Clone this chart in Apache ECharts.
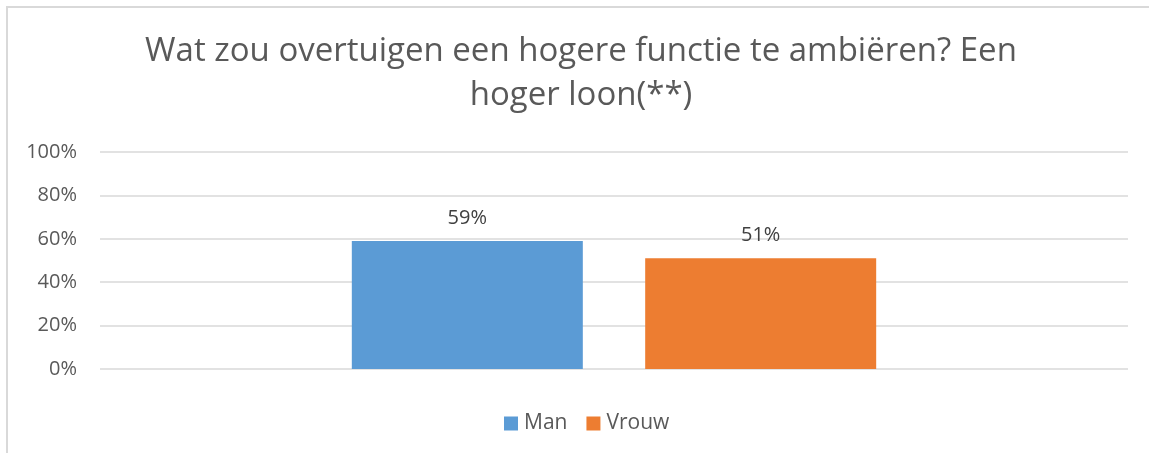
<!DOCTYPE html>
<html>
<head>
<meta charset="utf-8">
<script src="https://cdn.jsdelivr.net/npm/echarts@6/dist/echarts.min.js"></script>
<style>
  html, body { margin: 0; padding: 0; background: #fff; }
  #chart { width: 1149px; height: 453px; }
</style>
</head>
<body>
<div id="chart"></div>
<script>
const titleText = 'Wat zou overtuigen een hogere functie te ambiëren? Een\nhoger loon(**)'
const categories = ['']
const seriesNames = ['Man', 'Vrouw']
const manValues = [59]
const vrouwValues = [51]
const yTicks = { min: 0, max: 100, interval: 20 }

const fontFamily = '"Open Sans", "Noto Sans", sans-serif'
const textColor = '#595959'

const chart = echarts.init(document.getElementById('chart'), null, { renderer: 'canvas' })

const labelStyle = {
  show: true,
  position: 'top',
  distance: 13,
  formatter: (p) => p.value + '%',
  color: '#404040',
  fontSize: 20,
  fontFamily,
}

chart.setOption({
  backgroundColor: '#fff',
  animation: false,
  graphic: [
    {
      type: 'rect',
      shape: { x: 7, y: 7, width: 1300, height: 600 },
      style: { fill: 'none', stroke: '#d9d9d9', lineWidth: 2 },
      silent: true,
      z: -1,
    },
    {
      // chart title, centred a little right of the page centre like the original
      type: 'text',
      x: 581,
      y: 30,
      silent: true,
      style: {
        text: titleText,
        align: 'center',
        verticalAlign: 'top',
        fill: textColor,
        fontSize: 33,
        fontFamily,
        lineHeight: 44,
      },
    },
  ],
  legend: {
    data: seriesNames,
    left: 499,
    top: 408,
    itemWidth: 14,
    itemHeight: 14,
    itemGap: 19,
    icon: 'rect',
    textStyle: { color: textColor, fontSize: 21, fontFamily, padding: [0, 0, 0, 1] },
  },
  grid: {
    left: 100,
    right: 21,
    top: 152,
    bottom: 84,
    containLabel: false,
  },
  xAxis: {
    type: 'category',
    data: categories,
    axisLine: { show: false },
    axisTick: { show: false },
    axisLabel: { show: false },
  },
  yAxis: {
    type: 'value',
    min: yTicks.min,
    max: yTicks.max,
    interval: yTicks.interval,
    axisLine: { show: false },
    axisTick: { show: false },
    axisLabel: {
      formatter: (v) => v + '%',
      color: textColor,
      fontSize: 20,
      fontFamily,
      margin: 23,
    },
    splitLine: { lineStyle: { color: '#d9d9d9', width: 1.5 } },
  },
  series: [
    {
      name: seriesNames[0],
      type: 'bar',
      data: manValues,
      barWidth: 231,
      barGap: '27%',
      itemStyle: { color: '#5B9BD5' },
      label: labelStyle,
    },
    {
      name: seriesNames[1],
      type: 'bar',
      data: vrouwValues,
      barWidth: 231,
      barGap: '27%',
      itemStyle: { color: '#ED7D31' },
      label: labelStyle,
    },
  ],
})
</script>
</body>
</html>
